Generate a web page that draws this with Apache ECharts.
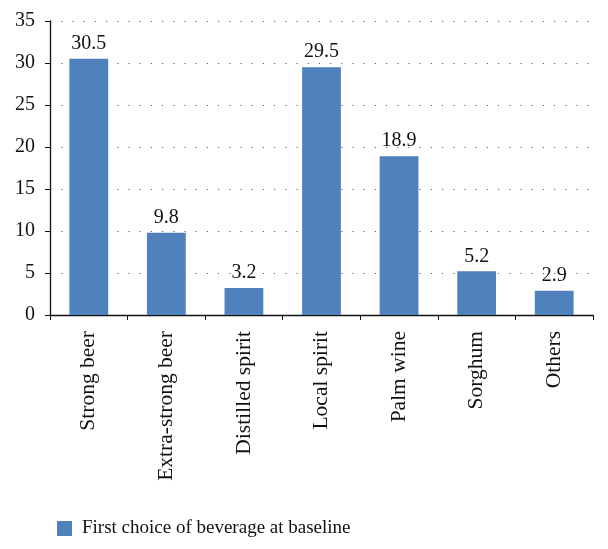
<!DOCTYPE html>
<html><head><meta charset="utf-8">
<script src="https://cdn.jsdelivr.net/npm/echarts@6/dist/echarts.min.js"></script>
<style>html,body{margin:0;padding:0;background:#fff}#c{width:608px;height:549px}</style>
</head><body><div id="c"></div>
<script>
const categories = ["Strong beer","Extra-strong beer","Distilled spirit","Local spirit","Palm wine","Sorghum","Others"];
const values = [30.5, 9.8, 3.2, 29.5, 18.9, 5.2, 2.9];
const seriesName = "First choice of beverage at baseline";
const yTicks = {min: 0, max: 35, interval: 5};
const font = "'Liberation Serif', 'DejaVu Serif', serif";
const chart = echarts.init(document.getElementById('c'), null, {renderer: 'canvas'});
chart.setOption({
  animation: false,
  textStyle: {fontFamily: font},
  grid: {left: 50, right: 15, top: 21, bottom: 234, containLabel: false},
  legend: {
    left: 52, top: 514, itemWidth: 15, itemHeight: 15, itemGap: 10,
    icon: 'rect',
    textStyle: {fontFamily: font, fontSize: 19, color: '#111', padding: [0,0,0,5]},
    data: [seriesName]
  },
  xAxis: {
    type: 'category', data: categories,
    axisLine: {lineStyle: {color: '#111', width: 1.3}},
    axisTick: {show: true, length: 5, lineStyle: {color: '#111'}},
    axisLabel: {rotate: 90, margin: 16, fontSize: 21.5, color: '#111', fontFamily: font},
    splitLine: {show: false}
  },
  yAxis: {
    type: 'value', min: yTicks.min, max: yTicks.max, interval: yTicks.interval,
    axisLine: {show: true, lineStyle: {color: '#111', width: 1.3}},
    axisTick: {show: true, length: 5, lineStyle: {color: '#111'}},
    axisLabel: {fontSize: 20, color: '#111', margin: 15, fontFamily: font},
    splitLine: {show: true, lineStyle: {color: '#666', width: 1, type: [1.2, 10]}}
  },
  series: [{
    name: seriesName, type: 'bar', data: values,
    barWidth: '50%',
    itemStyle: {color: '#4f81bd'},
    label: {show: true, position: 'top', distance: 5, fontSize: 20, color: '#111', fontFamily: font}
  }]
});
</script></body></html>
